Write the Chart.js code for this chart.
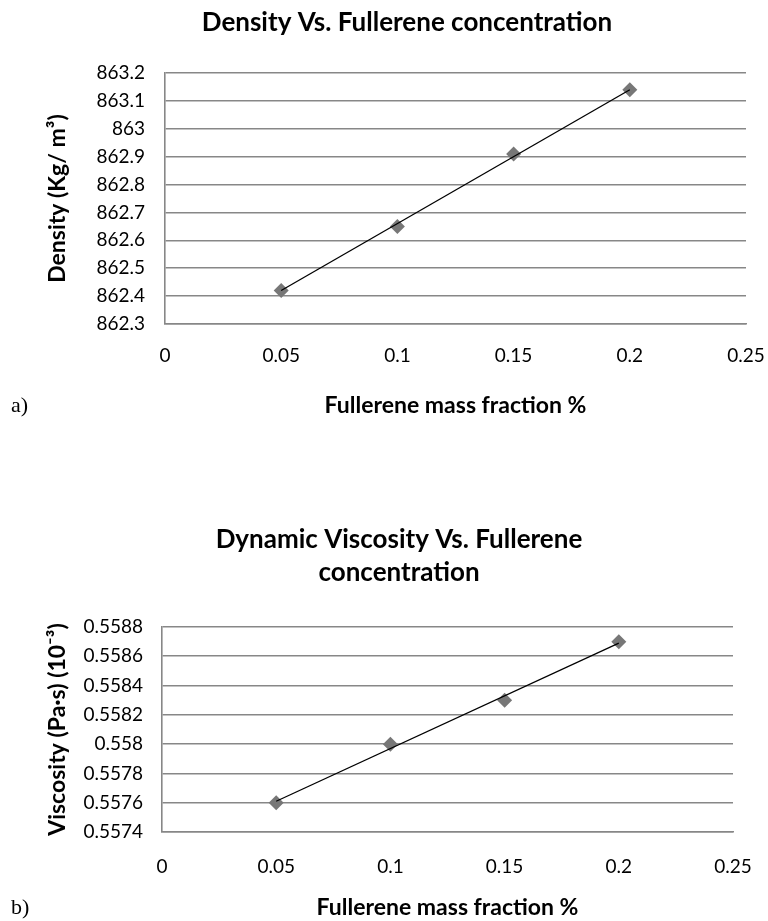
<!DOCTYPE html>
<html>
<head>
<meta charset="utf-8">
<script src="https://cdn.jsdelivr.net/npm/chart.js@4.4.1/dist/chart.umd.min.js"></script>
<style>
  body { margin: 0; background: #fff; width: 768px; height: 921px; position: relative; overflow: hidden; }
  canvas { position: absolute; left: 0; }
  #chartA { top: 0; }
  #chartB { top: 440px; }
  .tag { position: absolute; left: 11px; font-family: "Liberation Serif", serif; font-size: 22px; color: #000; }
</style>
</head>
<body>
<canvas id="chartA" width="768" height="440"></canvas>
<canvas id="chartB" width="768" height="481"></canvas>
<div class="tag" style="top:392px">a)</div>
<div class="tag" style="top:894px">b)</div>
<script>
// fullerene mass fraction (%)
const massFraction = [0.05, 0.1, 0.15, 0.2];
const density = [862.42, 862.65, 862.91, 863.14];
const viscosity = [0.5576, 0.5580, 0.5583, 0.5587];

// linear trendline ends
const trendX = [0.05, 0.2];
const densityTrend = [862.42, 863.14];
const viscosityTrend = [0.55761, 0.55869];

const xTicks = [0, 0.05, 0.1, 0.15, 0.2, 0.25];
const xTickLabels = ['0', '0.05', '0.1', '0.15', '0.2', '0.25'];
const densityTicks = [862.3, 862.4, 862.5, 862.6, 862.7, 862.8, 862.9, 863, 863.1, 863.2];
const densityTickLabels = ['862.3', '862.4', '862.5', '862.6', '862.7', '862.8', '862.9', '863', '863.1', '863.2'];
const viscosityTicks = [0.5574, 0.5576, 0.5578, 0.558, 0.5582, 0.5584, 0.5586, 0.5588];
const viscosityTickLabels = ['0.5574', '0.5576', '0.5578', '0.558', '0.5582', '0.5584', '0.5586', '0.5588'];

const FONT = 'Lato';
const GRID = '#878787';

// title is not centred on the canvas in the original, so draw it ourselves
const offsetTitle = {
    id: 'offsetTitle',
    afterDraw(chart, args, opts) {
        const ctx = chart.ctx;
        ctx.save();
        ctx.font = 'bold 26px ' + FONT;
        ctx.fillStyle = '#000';
        ctx.textAlign = 'center';
        ctx.textBaseline = 'middle';
        opts.lines.forEach((t, i) => ctx.fillText(t, opts.x, opts.y + i * opts.gap));
        ctx.restore();
    }
};

function makeChart(id, o) {
    const pts = massFraction.map((x, i) => ({x: x, y: o.values[i]}));
    const trend = trendX.map((x, i) => ({x: x, y: o.trend[i]}));
    return new Chart(document.getElementById(id), {
        type: 'scatter',
        data: {
            datasets: [
                {
                    data: trend,
                    showLine: true,
                    borderColor: '#000',
                    borderWidth: 1.3,
                    pointRadius: 0
                },
                {
                    data: pts,
                    pointStyle: 'rectRot',
                    pointRadius: 7.5,
                    backgroundColor: '#777777',
                    borderColor: '#777777',
                    borderWidth: 0
                }
            ]
        },
        plugins: [offsetTitle],
        options: {
            responsive: false,
            animation: false,
            layout: { padding: { left: 0, right: o.padRight, top: o.padTop, bottom: 0 } },
            plugins: {
                legend: { display: false },
                tooltip: { enabled: false },
                title: { display: false },
                offsetTitle: { lines: o.title, x: o.titleX, y: o.titleY, gap: 33 }
            },
            scales: {
                x: {
                    type: 'linear',
                    min: 0,
                    max: 0.25,
                    afterBuildTicks: (s) => { s.ticks = xTicks.map(v => ({value: v})); },
                    afterFit: (s) => {
                        s.height = o.xHeight;
                        s.paddingLeft = 0;
                        s.paddingRight = 0;
                    },
                    ticks: {
                        callback: (v, i) => xTickLabels[i],
                        color: '#000',
                        font: { family: FONT, size: 19 },
                        padding: o.xTickPad,
                        maxRotation: 0
                    },
                    grid: { display: false, drawTicks: false },
                    border: { display: true, color: GRID, width: 1.6 },
                    title: {
                        display: true,
                        text: 'Fullerene mass fraction %',
                        color: '#000',
                        font: { family: FONT, size: 23, weight: 'bold' },
                        padding: { top: 0, bottom: o.xTitlePad }
                    }
                },
                y: {
                    type: 'linear',
                    min: o.ticks[0],
                    max: o.ticks[o.ticks.length - 1],
                    afterBuildTicks: (s) => { s.ticks = o.ticks.map(v => ({value: v})); },
                    afterFit: (s) => { s.width = o.yWidth; },
                    ticks: {
                        callback: (v, i) => o.tickLabels[i],
                        color: '#000',
                        font: { family: FONT, size: 19 },
                        padding: o.yTickPad
                    },
                    grid: { color: GRID, lineWidth: 1.6, drawTicks: false },
                    border: { display: true, color: GRID, width: 1.6 },
                    title: {
                        display: true,
                        text: o.yTitle,
                        color: '#000',
                        font: { family: FONT, size: 23, weight: 'bold' },
                        padding: { top: 44, bottom: 0 }
                    }
                }
            }
        }
    });
}

makeChart('chartA', {
    values: density,
    trend: densityTrend,
    ticks: densityTicks,
    tickLabels: densityTickLabels,
    title: ['Density Vs. Fullerene concentration'],
    titleX: 407,
    titleY: 23,
    yTitle: 'Density (Kg/ m³)',
    padTop: 73,
    padRight: 22,
    yWidth: 165,
    xHeight: 116,
    xTickPad: 20,
    xTitlePad: 21,
    yTickPad: 20
});

makeChart('chartB', {
    values: viscosity,
    trend: viscosityTrend,
    ticks: viscosityTicks,
    tickLabels: viscosityTickLabels,
    title: ['Dynamic Viscosity Vs. Fullerene', 'concentration'],
    titleX: 399,
    titleY: 100,
    yTitle: 'Viscosity (Pa·s) (10⁻³)',
    padTop: 187,
    padRight: 35,
    yWidth: 162,
    xHeight: 89,
    xTickPad: 23,
    xTitlePad: 0,
    yTickPad: 19
});
</script>
</body>
</html>
